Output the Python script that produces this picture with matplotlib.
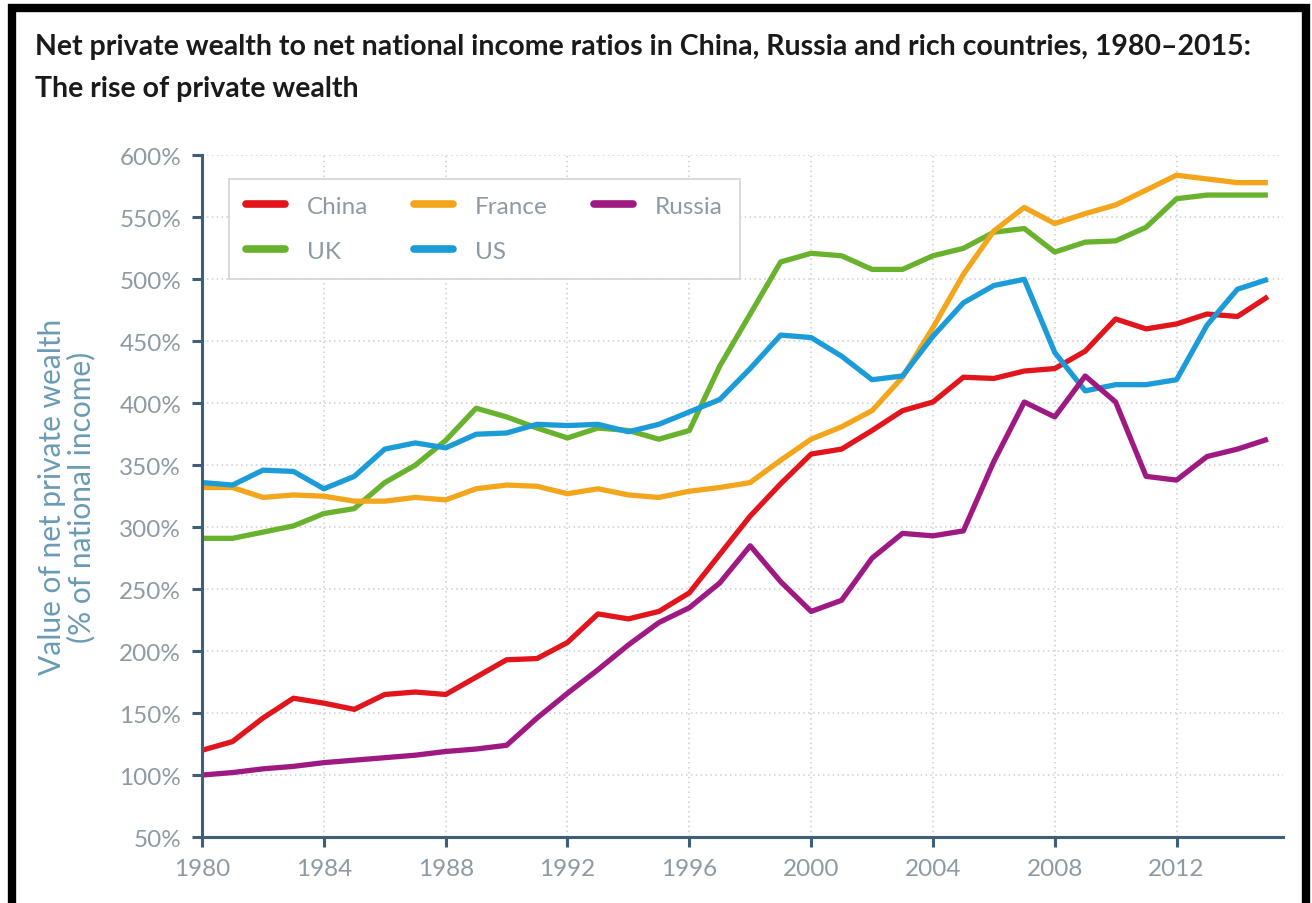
import matplotlib
matplotlib.use("Agg")
import matplotlib.pyplot as plt
from matplotlib.patches import Rectangle
from matplotlib.ticker import FuncFormatter

plt.rcParams['font.family'] = ['Lato', 'DejaVu Sans']

years = list(range(1980, 2016))

china = [120, 127, 146, 162, 158, 153, 165, 167, 165, 179,
         193, 194, 207, 230, 226, 232, 247, 278, 309, 335,
         359, 363, 378, 394, 401, 421, 420, 426, 428, 442,
         468, 460, 464, 472, 470, 486]
france = [332, 332, 324, 326, 325, 321, 321, 324, 322, 331,
          334, 333, 327, 331, 326, 324, 329, 332, 336, 354,
          371, 381, 394, 421, 461, 504, 539, 558, 545, 553,
          560, 572, 584, 581, 578, 578]
russia = [100, 102, 105, 107, 110, 112, 114, 116, 119, 121,
          124, 146, 166, 185, 205, 223, 235, 255, 285, 256,
          232, 241, 275, 295, 293, 297, 353, 401, 389, 422,
          401, 341, 338, 357, 363, 371]
uk = [291, 291, 296, 301, 311, 315, 336, 350, 370, 396,
      389, 380, 372, 380, 378, 371, 378, 430, 472, 514,
      521, 519, 508, 508, 519, 525, 538, 541, 522, 530,
      531, 542, 565, 568, 568, 568]
us = [336, 334, 346, 345, 331, 341, 363, 368, 364, 375,
      376, 383, 382, 383, 377, 383, 393, 403, 428, 455,
      453, 438, 419, 422, 454, 481, 495, 500, 441, 410,
      415, 415, 419, 463, 492, 500]

# legend order (ncol=3 fills column by column)
series = [("China", china, "#e2141c"),
          ("UK", uk, "#68b22e"),
          ("France", france, "#f3a51c"),
          ("US", us, "#1b9cd8"),
          ("Russia", russia, "#9e1a82")]

xticks = list(range(1980, 2013, 4))
yticks = list(range(50, 601, 50))

spine_col = "#3e5f78"
tick_col = "#8e9aa3"
label_col = "#6a9bb4"

fig = plt.figure(figsize=(13.12, 9.04), dpi=100)
ax = fig.add_axes([0.154, 0.073, 0.824, 0.754])

for name, vals, col in series:
    ax.plot(years, vals, color=col, lw=3.8, label=name, solid_capstyle='butt')

ax.set_xlim(1980, 2015.5)
ax.set_ylim(50, 600)
ax.set_xticks(xticks)
ax.set_yticks(yticks)
ax.yaxis.set_major_formatter(FuncFormatter(lambda v, p: f"{int(v)}%"))

ax.grid(True, color="#c9ced3", linestyle=(0, (1, 2.2)), lw=1.1)
ax.set_axisbelow(True)

for s in ["top", "right"]:
    ax.spines[s].set_visible(False)
for s in ["left", "bottom"]:
    ax.spines[s].set_color(spine_col)
    ax.spines[s].set_linewidth(2.2)

ax.tick_params(axis='both', colors=spine_col, width=2.2, length=7,
               labelcolor=tick_col, labelsize=17.5, pad=8)

ax.set_ylabel("Value of net private wealth\n(% of national income)",
              color=label_col, fontsize=21.5, linespacing=1.05, labelpad=17)

leg = ax.legend(ncol=3, loc='upper left', bbox_to_anchor=(0.025, 0.966),
                borderaxespad=0, frameon=True, fancybox=False, framealpha=1,
                fontsize=17.5, handlelength=1.6, columnspacing=1.9, borderpad=0.7,
                labelspacing=1.0, handletextpad=0.9)
leg.get_frame().set_edgecolor("#cfd4d8")
leg.get_frame().set_linewidth(1.2)
for t in leg.get_texts():
    t.set_color(tick_col)
for h in leg.get_lines():
    h.set_linewidth(5.5)
    h.set_solid_capstyle('round')

fig.text(0.027, 0.948, "Net private wealth to net national income ratios in China, Russia and rich countries, 1980\u20132015:",
         fontsize=20.5, fontweight='bold', color="#1a1a1a", va='center', ha='left')
fig.text(0.027, 0.902, "The rise of private wealth",
         fontsize=20.5, fontweight='bold', color="#1a1a1a", va='center', ha='left')

fig.patches.append(Rectangle((12 / 1312, -0.05), 1294 / 1312, 1 - 9 / 904 + 0.05,
                             transform=fig.transFigure, fill=False,
                             edgecolor="black", linewidth=6))

fig.savefig("out.png", dpi=100)
